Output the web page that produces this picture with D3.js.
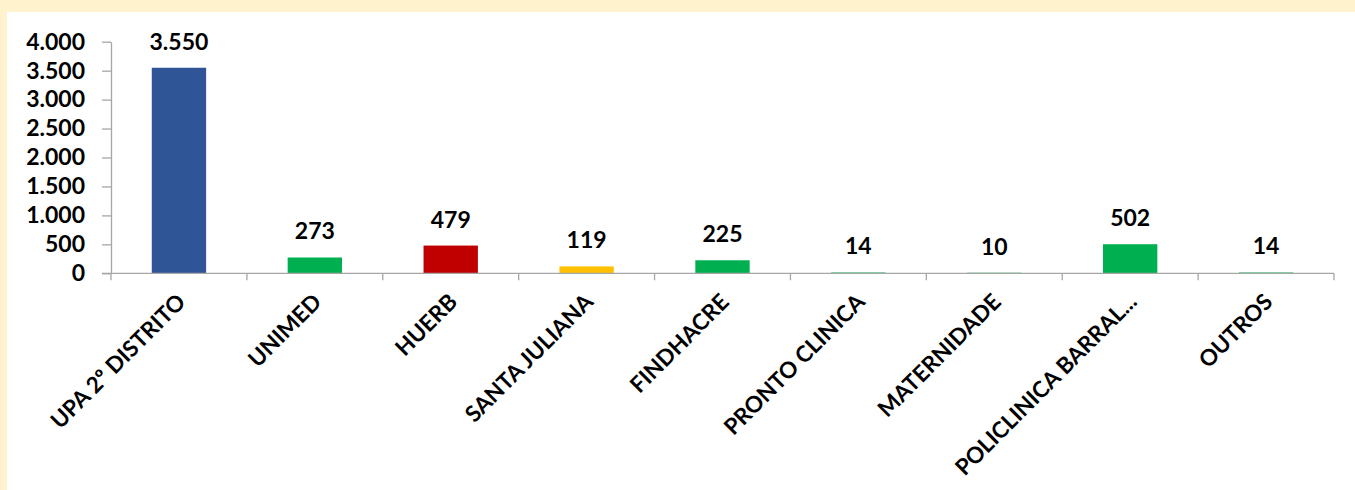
<!DOCTYPE html>
<html>
<head>
<meta charset="utf-8">
<script src="https://cdn.jsdelivr.net/npm/d3@7"></script>
<style>
  body { margin: 0; background: #fff2cc; }
  #chart-container { width: 1355px; height: 490px; }
  text { font-family: Lato, "Open Sans", sans-serif; font-weight: bold; fill: #000; }
</style>
</head>
<body>
<div id="chart-container"></div>
<script>
(function () {
    'use strict';

    var categories = ['UPA 2º DISTRITO', 'UNIMED', 'HUERB', 'SANTA JULIANA', 'FINDHACRE',
        'PRONTO CLINICA', 'MATERNIDADE', 'POLICLINICA BARRAL...', 'OUTROS'];
    var values = [3550, 273, 479, 119, 225, 14, 10, 502, 14];
    var colors = ['#2f5597', '#00b050', '#c00000', '#ffc000', '#00b050',
        '#00b050', '#00b050', '#00b050', '#00b050'];
    var yTicks = [0, 500, 1000, 1500, 2000, 2500, 3000, 3500, 4000];

    var width = 1355;
    var height = 490;
    var left = 111, right = 1334, top = 41.7, bottom = 273.3;

    var svg = d3.select('#chart-container')
        .append('svg')
        .attr('width', width)
        .attr('height', height);

    // white plot card, yellow strip on top/left
    svg.append('rect')
        .attr('x', 7).attr('y', 12)
        .attr('width', width - 7).attr('height', height - 12)
        .attr('fill', '#fff');

    var x = d3.scaleBand()
        .domain(categories)
        .range([left, right])
        .paddingInner(0.6)
        .paddingOuter(0.3);

    var y = d3.scaleLinear()
        .domain([0, 4000])
        .range([bottom, top]);

    var fmt = function (v) {
        return d3.format(',')(v).replace(/,/g, '.');
    };

    var yAxis = svg.append('g')
        .attr('transform', 'translate(' + left + ',0)')
        .call(d3.axisLeft(y).tickValues(yTicks).tickFormat(fmt)
            .tickSize(9).tickSizeOuter(0).tickPadding(17));
    yAxis.selectAll('text').style('font-size', '23px');

    svg.append('g')
        .selectAll('rect')
        .data(values)
        .enter()
        .append('rect')
        .attr('x', function (d, i) { return x(categories[i]); })
        .attr('y', function (d) { return y(d); })
        .attr('width', x.bandwidth())
        .attr('height', function (d) { return bottom - y(d); })
        .attr('fill', function (d, i) { return colors[i]; });

    svg.append('g')
        .selectAll('text')
        .data(values)
        .enter()
        .append('text')
        .attr('x', function (d, i) { return x(categories[i]) + x.bandwidth() / 2; })
        .attr('y', function (d) { return y(d) - 18; })
        .attr('text-anchor', 'middle')
        .style('font-size', '23px')
        .text(fmt);

    // category axis: ticks between bands
    var step = x.step();
    var bounds = d3.range(categories.length + 1).map(function (i) { return left + i * step; });
    var xg = svg.append('g');
    xg.append('line')
        .attr('x1', left - 9).attr('x2', right)
        .attr('y1', bottom).attr('y2', bottom);
    xg.selectAll('line.tick')
        .data(bounds)
        .enter()
        .append('line')
        .attr('class', 'tick')
        .attr('x1', function (d) { return d; })
        .attr('x2', function (d) { return d; })
        .attr('y1', bottom).attr('y2', bottom + 7);
    xg.selectAll('line').attr('stroke', '#a6a6a6').attr('stroke-width', 1.3);

    xg.selectAll('text')
        .data(categories)
        .enter()
        .append('text')
        .attr('transform', function (d) {
            var cx = x(d) + x.bandwidth() / 2;
            return 'translate(' + (cx + 8) + ',' + (bottom + 30) + ') rotate(-45)';
        })
        .attr('text-anchor', 'end')
        .style('font-size', '22.5px')
        .text(function (d) { return d; });

    yAxis.select('.domain').attr('stroke', '#a6a6a6').attr('stroke-width', 1.3);
    yAxis.selectAll('.tick line').attr('stroke', '#a6a6a6').attr('stroke-width', 1.3);
}());
</script>
</body>
</html>
